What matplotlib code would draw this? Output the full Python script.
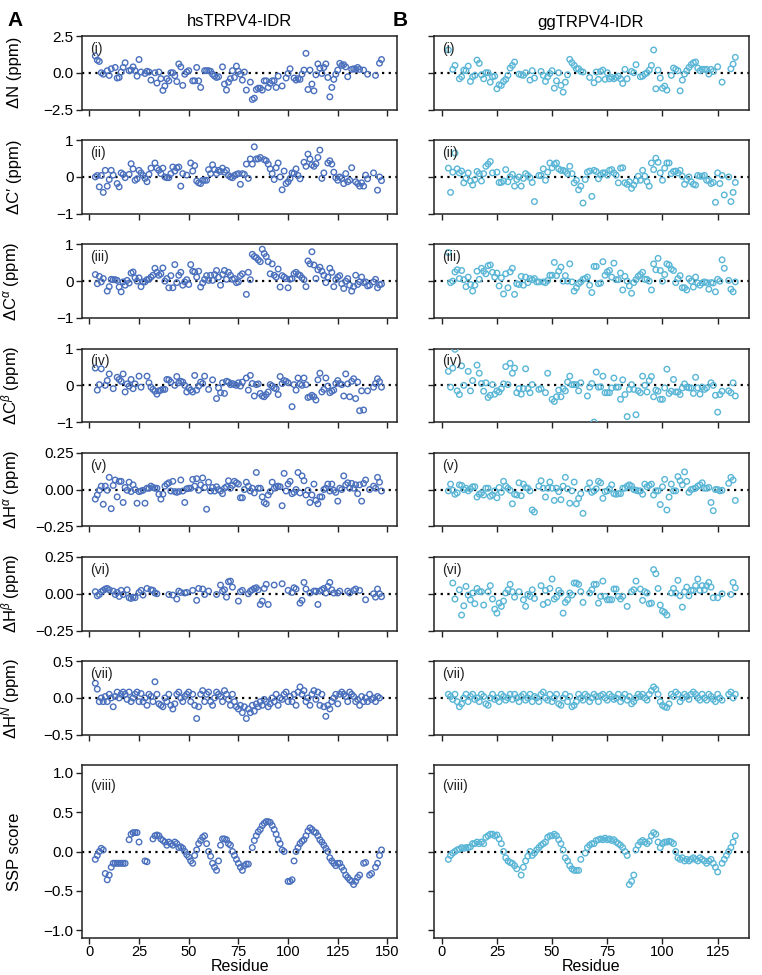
import numpy as np
import matplotlib
matplotlib.use("Agg")
import matplotlib.pyplot as plt

plt.rcParams['font.family'] = ['Liberation Sans', 'DejaVu Sans']
plt.rcParams['mathtext.fontset'] = 'custom'
plt.rcParams['mathtext.rm'] = 'Liberation Sans'
plt.rcParams['mathtext.it'] = 'Liberation Sans:italic'

HS_COLOR = '#4a70bd'
GG_COLOR = '#5ab6d6'

# ---- hsTRPV4-IDR : (residue, value) ----
hs_dN = [(3,1.14),(4,0.86),(5,0.77),(6,0.0),(7,-0.1),(9,0.14),(10,-0.18),(11,0.27),(13,0.36),(14,-0.36),(15,-0.32),
         (16,0.05),(17,0.36),(18,0.68),(20,0.14),(21,0.18),(22,0.4),(23,0.14),(24,-0.23),(25,0.9),(26,0.05),(28,-0.05),
         (29,0.1),(30,0.05),(31,-0.5),(33,0.0),(34,-0.7),(35,0.05),(36,-0.4),(37,-1.2),(38,-0.9),(39,-0.4),(40,-0.55),
         (41,0.0),(42,0.0),(43,-0.2),(44,-0.6),(45,0.6),(46,0.4),(47,-0.86),(48,-0.1),(49,0.05),(50,0.14),(52,-0.55),
         (53,-0.55),(54,0.36),(55,-0.55),(56,-1.0),(58,0.14),(59,0.14),(60,0.14),(61,0.1),(62,-0.1),(63,-0.23),(64,-0.32),
         (65,-0.27),(67,0.4),(68,-0.77),(69,-1.18),(70,-0.64),(71,-0.4),(72,0.14),(73,-0.32),(74,0.45),(75,0.1),(76,-0.1),
         (77,-0.5),(78,0.05),(79,-1.18),(81,-0.64),(82,-1.82),(83,-1.73),(84,-1.14),(85,-1.05),(86,-1.05),(87,-1.18),
         (88,-0.55),(89,-0.55),(90,-1.0),(91,-0.73),(92,-0.55),(93,-0.55),(94,-1.0),(95,-0.23),(97,-0.9),(99,-0.36),
         (100,-0.05),(101,0.27),(103,-0.36),(104,-0.5),(105,-0.4),(106,-0.45),(107,-0.1),(108,0.18),(109,1.32),(110,-1.14),
         (111,0.18),(112,-0.77),(113,-1.23),(114,-0.14),(115,0.6),(116,0.32),(117,-0.05),(118,0.36),(119,0.6),(120,-0.32),
         (121,-1.64),(122,-1.0),(123,-0.45),(124,-0.1),(125,0.18),(126,0.64),(127,0.5),(128,0.55),(129,0.4),(130,-0.27),
         (132,0.23),(133,0.27),(134,0.23),(135,0.36),(136,0.23),(138,0.18),(140,-0.1),(144,-0.18),(146,0.65),(147,0.9)]

hs_dC = [(3,0.0),(4,0.04),(5,-0.27),(6,0.04),(7,-0.42),(8,0.18),(9,-0.25),(10,-0.07),(11,0.18),(12,0.05),(14,-0.18),
         (15,-0.27),(16,0.11),(17,0.07),(18,-0.02),(20,0.07),(21,0.36),(22,0.22),(23,-0.09),(24,-0.05),(25,0.18),(26,0.11),
         (27,0.04),(28,-0.04),(29,-0.13),(30,0.07),(31,0.24),(33,0.38),(34,0.24),(35,0.18),(36,0.09),(37,0.24),(38,0.0),
         (39,-0.02),(40,-0.02),(41,0.09),(42,0.27),(43,0.16),(44,0.25),(45,0.27),(46,-0.25),(47,0.09),(49,0.05),(51,0.38),
         (52,0.16),(53,0.31),(54,-0.11),(55,-0.16),(56,-0.18),(57,-0.09),(58,-0.09),(59,-0.09),(60,0.2),(61,0.09),(62,0.33),
         (63,0.2),(64,0.09),(65,0.18),(66,0.15),(67,0.24),(68,0.13),(69,0.18),(70,0.04),(71,0.0),(72,-0.02),(73,0.04),
         (74,0.07),(75,0.09),(76,-0.2),(77,0.09),(78,0.07),(79,0.35),(80,-0.04),(81,0.49),(82,0.35),(83,0.82),(84,0.49),
         (85,0.49),(86,0.53),(88,0.47),(89,0.44),(90,0.35),(91,0.22),(92,0.09),(93,-0.07),(94,0.25),(95,0.38),(96,0.0),
         (97,-0.35),(98,0.16),(99,-0.18),(100,-0.13),(101,-0.04),(102,0.11),(103,0.09),(104,0.22),(105,0.04),(106,-0.05),
         (108,0.4),(109,0.29),(110,0.62),(111,0.49),(112,0.33),(113,0.29),(114,0.36),(115,0.53),(116,0.73),(117,-0.04),
         (118,0.11),(120,0.38),(121,0.44),(122,0.35),(123,0.13),(124,-0.02),(125,-0.09),(126,0.0),(127,-0.04),(128,-0.18),
         (129,0.09),(130,-0.13),(131,-0.09),(132,0.25),(134,-0.13),(135,-0.18),(136,-0.25),(137,-0.16),(138,-0.25),
         (139,0.05),(140,-0.05),(143,0.11),(145,-0.36),(146,0.0),(147,-0.1)]

hs_dCa = [(3,0.18),(4,-0.07),(5,0.13),(6,-0.02),(7,0.07),(9,-0.27),(10,-0.15),(11,0.05),(12,0.04),(13,0.04),(14,0.02),
          (15,-0.16),(16,-0.29),(17,-0.02),(18,-0.11),(19,0.02),(20,-0.05),(21,0.22),(22,0.25),(23,0.09),(24,0.0),(25,0.09),
          (26,-0.15),(27,-0.02),(28,-0.02),(29,0.04),(30,0.05),(31,0.11),(32,0.16),(33,0.35),(34,0.24),(35,0.16),(36,0.2),
          (37,0.36),(38,0.0),(39,0.07),(40,-0.18),(41,0.15),(42,-0.18),(43,0.45),(44,-0.04),(45,0.16),(46,0.24),(47,-0.11),
          (48,-0.02),(49,0.04),(50,-0.09),(51,0.45),(52,0.27),(53,0.25),(54,0.11),(55,0.27),(56,-0.16),(57,-0.05),(58,0.05),
          (59,0.15),(60,0.02),(61,0.16),(62,0.02),(63,0.18),(64,0.29),(65,0.11),(66,-0.11),(67,0.18),(68,0.29),(69,0.05),
          (70,0.24),(71,0.16),(72,0.05),(73,0.07),(74,-0.04),(75,-0.02),(76,0.15),(77,0.2),(79,-0.36),(80,0.24),(81,0.04),
          (82,0.73),(83,0.67),(84,0.64),(85,0.58),(86,0.53),(87,0.87),(88,0.75),(89,0.67),(90,0.53),(91,0.2),(92,0.47),
          (93,0.16),(94,0.11),(95,0.33),(96,-0.16),(97,0.15),(98,0.11),(99,0.07),(100,-0.18),(101,0.05),(102,0.07),(103,0.2),
          (104,0.24),(105,0.18),(106,0.16),(107,0.09),(108,0.04),(109,-0.15),(110,0.55),(111,0.47),(112,0.8),(113,0.44),
          (114,0.07),(115,0.31),(116,0.38),(117,0.27),(118,0.16),(119,-0.04),(120,0.11),(121,0.35),(122,0.24),(123,-0.15),
          (124,0.04),(125,0.11),(126,0.15),(127,-0.07),(128,-0.2),(129,0.0),(130,0.07),(131,-0.11),(132,-0.27),(133,-0.15),
          (134,0.16),(135,-0.09),(136,-0.02),(137,0.11),(138,-0.04),(139,-0.02),(140,-0.13),(141,-0.11),(143,-0.02),
          (144,0.05),(145,-0.18),(146,-0.1),(147,-0.08)]

hs_dCb = [(3,0.47),(4,-0.13),(5,0.02),(6,0.45),(8,0.0),(9,0.13),(10,0.31),(12,-0.09),(14,0.22),(15,0.16),(16,0.11),
          (17,0.31),(18,-0.18),(19,0.04),(20,-0.02),(21,0.16),(22,-0.09),(23,0.04),(25,0.25),(26,-0.05),(29,0.25),(30,0.07),
          (31,-0.05),(32,-0.11),(33,-0.16),(34,-0.24),(35,-0.15),(36,-0.13),(37,-0.11),(38,-0.11),(39,0.16),(40,0.15),
          (41,0.09),(43,0.0),(44,0.24),(45,0.07),(46,0.11),(47,0.09),(48,0.0),(49,-0.18),(50,-0.07),(51,-0.13),(52,-0.18),
          (53,0.27),(54,-0.13),(55,-0.02),(56,0.09),(57,0.05),(58,0.25),(60,-0.11),(62,0.15),(64,-0.36),(65,-0.07),
          (66,-0.2),(67,0.07),(68,-0.22),(69,0.11),(70,0.09),(71,0.02),(72,0.05),(73,0.02),(74,0.0),(75,0.07),(76,-0.02),
          (77,0.09),(79,0.2),(80,-0.13),(81,0.27),(82,0.05),(83,-0.29),(84,0.02),(85,0.04),(86,-0.22),(87,-0.29),
          (88,-0.31),(89,-0.25),(90,-0.18),(91,0.02),(92,-0.02),(93,-0.07),(94,-0.09),(95,-0.25),(96,0.24),(97,0.05),
          (98,0.13),(99,0.11),(100,0.07),(102,-0.58),(103,0.02),(104,-0.13),(105,0.2),(106,0.04),(107,0.0),(108,0.2),
          (109,0.02),(110,-0.33),(111,-0.31),(112,-0.27),(113,-0.31),(114,-0.4),(115,0.15),(116,0.33),(117,-0.18),
          (118,-0.11),(119,0.2),(120,-0.02),(121,-0.2),(122,-0.16),(123,-0.13),(124,0.05),(125,0.13),(126,0.05),(127,0.02),
          (128,-0.29),(129,0.31),(130,0.04),(131,-0.31),(132,0.11),(133,0.18),(134,-0.36),(135,0.09),(136,-0.69),
          (137,-0.15),(138,-0.67),(140,-0.15),(143,-0.05),(144,0.05),(145,0.18),(146,0.1),(147,-0.05)]

hs_dHa = [(3,-0.065),(4,-0.037),(5,-0.005),(6,0.023),(7,-0.1),(8,0.023),(9,-0.005),(10,0.083),(11,-0.13),(12,0.028),
          (13,0.065),(14,-0.05),(15,0.056),(16,0.056),(17,-0.088),(18,0.014),(19,-0.005),(20,0.05),(21,-0.014),(22,0.032),
          (23,0.0),(24,-0.093),(25,-0.014),(26,-0.01),(27,-0.005),(28,-0.093),(29,0.009),(30,0.009),(31,0.023),(32,0.014),
          (33,0.009),(34,0.009),(35,-0.032),(36,-0.065),(37,-0.032),(38,0.023),(39,0.037),(40,0.046),(41,-0.01),(42,0.056),
          (43,-0.014),(44,-0.019),(45,-0.014),(46,0.065),(47,-0.01),(48,-0.088),(49,0.005),(50,0.009),(51,0.009),
          (52,0.069),(53,0.023),(54,0.074),(55,-0.005),(56,0.032),(57,0.079),(58,0.014),(59,-0.134),(60,0.05),(61,-0.01),
          (62,0.014),(63,-0.01),(64,0.019),(65,0.0),(66,-0.01),(67,-0.028),(68,0.009),(69,0.019),(70,0.06),(71,0.009),
          (72,0.028),(73,0.056),(74,0.046),(75,0.037),(76,-0.056),(77,-0.056),(78,0.0),(79,0.05),(80,0.023),(81,-0.01),
          (82,0.009),(83,-0.023),(84,0.116),(85,0.009),(86,0.009),(87,-0.05),(88,-0.088),(89,-0.097),(90,-0.037),
          (91,-0.014),(92,0.05),(93,0.009),(94,0.019),(95,0.023),(96,0.019),(97,-0.11),(98,0.11),(99,-0.01),(100,0.037),
          (101,0.056),(102,-0.028),(103,-0.019),(104,0.0),(105,0.116),(106,-0.023),(107,0.093),(108,0.06),(109,-0.037),
          (110,-0.005),(111,-0.088),(112,-0.037),(113,0.037),(114,-0.074),(115,-0.097),(116,-0.05),(117,-0.05),(118,0.0),
          (119,0.009),(120,0.037),(121,-0.01),(122,0.037),(123,-0.005),(124,-0.019),(125,-0.079),(126,0.009),(127,0.0),
          (128,0.093),(129,0.032),(130,0.046),(131,0.009),(132,0.042),(133,0.009),(134,0.032),(135,-0.028),(136,0.032),
          (137,-0.079),(138,0.042),(139,0.065),(141,0.0),(143,0.023),(144,0.009),(145,0.083),(146,0.05),(147,-0.01)]

hs_dHb = [(3,0.014),(4,-0.014),(5,-0.005),(6,0.014),(7,0.023),(8,0.032),(9,0.036),(10,0.027),(12,0.018),(13,-0.005),
          (14,0.009),(15,-0.018),(16,0.023),(17,-0.005),(19,0.027),(20,-0.027),(21,-0.032),(22,-0.023),(23,-0.027),
          (25,0.009),(26,0.023),(27,-0.009),(29,0.036),(31,0.027),(32,0.023),(33,0.005),(34,0.0),(40,-0.005),(42,-0.009),
          (44,-0.036),(45,0.018),(46,0.009),(48,0.005),(49,0.009),(52,0.023),(54,-0.045),(55,0.036),(57,0.032),(58,-0.005),
          (60,0.018),(64,-0.005),(66,0.059),(67,0.018),(68,0.027),(69,-0.023),(70,0.082),(71,0.086),(72,0.045),(75,-0.05),
          (76,0.014),(77,0.023),(80,0.0),(81,0.018),(82,0.027),(83,0.036),(84,0.041),(85,0.027),(86,-0.073),(87,-0.05),
          (88,0.036),(89,0.064),(90,-0.073),(93,0.059),(97,0.068),(100,0.023),(102,0.009),(103,0.041),(104,0.032),
          (106,-0.064),(107,-0.045),(108,0.077),(109,0.032),(111,0.005),(113,0.018),(114,0.018),(115,-0.073),(116,0.018),
          (117,0.027),(118,0.036),(119,0.005),(120,0.05),(121,0.077),(122,0.027),(123,0.005),(125,0.005),(126,0.018),
          (130,0.018),(131,0.005),(133,0.023),(134,0.032),(136,0.023),(139,-0.041),(143,0.0),(144,-0.023),(145,0.032),
          (146,0.0),(147,-0.02)]

hs_dHN = [(3,0.2),(4,0.12),(5,-0.05),(6,0.0),(7,-0.05),(8,0.02),(9,-0.05),(10,0.05),(11,0.0),(12,-0.12),(13,0.02),
          (14,0.08),(15,0.0),(16,0.05),(17,0.08),(18,0.05),(19,-0.02),(20,0.08),(21,-0.05),(22,0.0),(23,0.05),(24,0.08),
          (25,-0.05),(26,0.06),(27,-0.05),(28,0.0),(29,-0.1),(30,0.05),(31,0.02),(32,-0.05),(33,0.22),(34,0.05),(35,-0.08),
          (36,-0.1),(37,-0.12),(38,0.0),(39,-0.05),(40,0.05),(41,-0.1),(42,-0.15),(43,-0.08),(44,0.05),(45,0.08),(46,0.0),
          (47,-0.05),(48,0.02),(49,0.05),(50,0.08),(51,-0.05),(52,0.05),(53,-0.1),(54,-0.28),(55,-0.12),(56,0.05),
          (57,0.1),(58,-0.05),(59,0.05),(60,0.08),(61,-0.05),(62,-0.1),(63,0.0),(64,0.08),(65,0.05),(66,0.02),(67,-0.05),
          (68,0.1),(69,0.05),(70,-0.02),(71,-0.1),(72,0.05),(73,-0.05),(74,-0.12),(75,-0.15),(76,-0.1),(77,-0.2),
          (78,-0.12),(79,-0.28),(80,-0.15),(81,-0.2),(82,-0.1),(83,-0.18),(84,-0.08),(85,-0.12),(86,-0.05),(87,-0.1),
          (88,-0.02),(89,-0.05),(90,-0.12),(91,-0.08),(92,0.0),(93,-0.05),(94,0.05),(95,-0.1),(96,0.0),(97,-0.02),
          (98,0.05),(99,0.08),(100,-0.05),(101,0.02),(102,-0.05),(103,0.05),(104,-0.1),(105,0.08),(106,0.15),(107,0.05),
          (108,0.1),(109,-0.05),(110,0.0),(111,-0.1),(112,0.05),(113,0.1),(114,-0.02),(115,0.08),(116,-0.1),(117,0.05),
          (118,-0.12),(119,-0.25),(120,-0.1),(121,-0.15),(122,-0.05),(123,0.0),(124,0.05),(125,-0.08),(126,0.05),
          (127,0.08),(128,0.05),(129,0.02),(130,-0.05),(131,0.08),(132,0.05),(133,0.02),(134,-0.05),(135,-0.02),
          (136,-0.1),(137,0.02),(138,-0.05),(139,0.0),(140,-0.05),(141,0.05),(142,-0.02),(143,0.0),(144,-0.05),
          (145,0.02),(146,0.0)]

hs_ssp = [(3,-0.1),(4,-0.05),(5,0.0),(6,0.04),(7,0.02),(8,-0.28),(9,-0.36),(10,-0.3),(11,-0.2),(12,-0.15),(13,-0.15),
          (14,-0.15),(15,-0.15),(16,-0.15),(17,-0.15),(18,-0.15),(20,0.15),(21,0.22),(22,0.24),(23,0.24),(24,0.24),
          (25,0.12),(28,-0.12),(29,-0.13),(32,0.16),(33,0.2),(34,0.21),(35,0.2),(36,0.16),(37,0.14),(38,0.12),(39,0.08),
          (40,0.12),(41,0.1),(42,0.08),(43,0.12),(44,0.1),(45,0.05),(46,0.06),(47,0.04),(48,0.0),(49,-0.04),(50,-0.07),
          (51,-0.12),(52,-0.15),(53,-0.05),(54,0.02),(55,0.1),(56,0.14),(57,0.18),(58,0.2),(59,0.1),(60,0.0),(61,-0.06),
          (62,-0.15),(63,-0.2),(64,-0.24),(65,-0.12),(66,0.08),(67,0.16),(68,0.16),(69,0.15),(70,0.1),(71,0.08),(72,0.0),
          (73,-0.05),(74,-0.1),(75,-0.15),(76,-0.2),(77,-0.24),(78,-0.18),(79,-0.16),(80,-0.16),(82,0.05),(83,0.14),
          (84,0.2),(85,0.25),(86,0.28),(87,0.33),(88,0.36),(89,0.38),(90,0.38),(91,0.37),(92,0.33),(93,0.28),(94,0.22),
          (95,0.15),(96,0.1),(97,0.02),(98,0.0),(100,-0.38),(101,-0.38),(102,-0.36),(103,-0.12),(104,0.0),(105,0.05),
          (106,0.1),(107,0.13),(108,0.15),(109,0.2),(110,0.26),(111,0.3),(112,0.28),(113,0.25),(114,0.24),(115,0.2),
          (116,0.15),(117,0.12),(118,0.08),(119,0.04),(120,0.0),(121,-0.08),(122,-0.12),(123,-0.15),(124,-0.18),
          (125,-0.15),(126,-0.15),(127,-0.2),(128,-0.24),(129,-0.3),(130,-0.33),(131,-0.36),(132,-0.38),(133,-0.42),
          (134,-0.38),(135,-0.33),(136,-0.3),(138,-0.15),(139,-0.14),(141,-0.3),(142,-0.28),(144,-0.2),(145,-0.15),
          (146,-0.05),(147,0.02)]

# ---- ggTRPV4-IDR : (residue, value) ----
gg_dN = [(3,1.55),(5,0.23),(6,0.5),(8,-0.41),(9,-0.27),(10,0.18),(11,0.14),(12,0.45),(13,-0.59),(14,-0.27),(15,-0.18),
         (16,0.86),(17,0.64),(18,-0.14),(19,-0.41),(20,0.0),(21,0.0),(22,-0.64),(23,-0.27),(24,-0.23),(25,-1.09),
         (26,-0.82),(27,-0.86),(28,-0.59),(29,-0.45),(30,-0.18),(31,0.32),(32,0.5),(33,0.73),(35,-0.09),(36,-0.14),
         (37,-0.18),(38,0.0),(40,-0.5),(41,0.14),(42,-0.36),(45,0.09),(46,-0.18),(47,-0.59),(48,-0.27),(49,-0.05),
         (50,0.14),(51,-1.05),(52,-0.55),(53,0.0),(54,-0.86),(55,-1.32),(56,-0.64),(57,-0.14),(58,0.91),(59,0.68),
         (60,0.5),(61,0.27),(62,0.27),(63,0.09),(64,0.05),(67,-0.32),(69,-0.68),(70,0.05),(71,-0.45),(72,0.09),(73,0.18),
         (74,-0.45),(75,0.0),(76,-0.41),(77,-0.32),(78,-0.41),(79,-0.32),(80,-0.23),(81,-0.41),(82,-0.73),(83,0.23),
         (84,-0.41),(86,0.09),(87,0.0),(88,0.55),(90,-0.27),(91,-0.23),(92,-0.09),(93,0.0),(94,0.18),(95,0.5),(96,1.55),
         (97,-1.09),(98,0.18),(99,-0.36),(100,-1.05),(101,-0.91),(102,-1.18),(104,-0.18),(105,0.32),(106,0.23),
         (107,0.14),(108,-1.23),(109,-0.5),(110,-0.09),(111,0.14),(112,0.36),(113,0.55),(114,0.68),(115,0.73),
         (116,0.32),(117,0.14),(118,0.23),(119,0.23),(120,0.23),(121,-0.09),(122,0.23),(123,0.09),(125,0.41),
         (127,-0.64),(131,0.27),(132,0.59),(133,1.05)]

gg_dC = [(3,0.24),(4,-0.42),(5,0.13),(6,0.65),(7,0.22),(8,0.11),(9,0.16),(10,-0.16),(11,-0.04),(12,0.11),(13,-0.11),
         (14,-0.22),(15,-0.07),(16,0.15),(17,0.09),(18,-0.11),(19,0.09),(20,0.29),(21,0.35),(22,0.42),(23,0.11),
         (25,0.13),(26,-0.15),(27,-0.15),(28,-0.11),(29,0.2),(30,-0.13),(31,0.0),(32,0.07),(33,-0.25),(34,-0.07),
         (35,0.0),(36,-0.25),(37,-0.04),(38,0.09),(39,0.04),(40,-0.02),(41,-0.15),(42,-0.67),(44,0.04),(45,0.04),
         (46,0.22),(47,-0.09),(48,0.13),(49,0.38),(50,0.25),(51,0.35),(52,0.38),(53,0.22),(54,0.18),(55,0.18),(56,0.15),
         (57,0.09),(58,0.29),(59,0.09),(60,-0.16),(61,-0.09),(62,-0.35),(63,-0.25),(64,-0.71),(65,-0.07),(66,0.13),
         (67,0.16),(68,-0.53),(69,0.18),(70,0.15),(71,-0.05),(72,0.05),(73,0.11),(74,0.11),(75,0.05),(76,0.18),(77,0.2),
         (78,0.11),(79,0.05),(80,-0.16),(81,0.24),(82,0.25),(83,-0.16),(84,-0.2),(85,-0.13),(86,-0.31),(87,-0.22),
         (88,-0.11),(89,0.02),(90,-0.09),(91,0.18),(92,0.02),(93,-0.13),(94,-0.25),(95,0.38),(96,0.2),(97,0.51),(98,0.4),
         (99,0.11),(100,-0.09),(101,0.24),(102,0.38),(103,0.38),(104,0.09),(105,0.15),(106,0.16),(107,0.11),(108,0.18),
         (109,0.02),(110,-0.2),(111,-0.07),(112,0.0),(113,-0.13),(114,-0.2),(115,-0.22),(116,0.04),(117,0.02),(118,0.02),
         (119,0.04),(120,-0.09),(121,-0.09),(122,-0.18),(123,-0.15),(124,-0.69),(125,0.11),(126,-0.18),(127,0.04),
         (128,-0.49),(130,0.0),(131,-0.67),(132,-0.42),(133,-0.15)]

gg_dCa = [(3,0.78),(4,-0.04),(5,0.0),(6,0.25),(7,0.31),(8,0.07),(9,0.29),(10,0.04),(11,-0.15),(12,0.11),(13,-0.09),
          (14,-0.27),(15,-0.11),(16,0.27),(17,0.05),(18,0.35),(19,0.27),(20,0.2),(21,0.42),(22,0.44),(23,0.24),(24,0.11),
          (25,0.22),(26,-0.13),(27,0.09),(28,-0.35),(29,0.2),(30,-0.18),(31,0.25),(32,0.35),(33,-0.36),(34,-0.07),
          (35,-0.09),(36,0.13),(37,-0.11),(38,0.11),(39,-0.04),(40,0.07),(41,0.04),(42,0.07),(43,-0.02),(44,-0.02),
          (46,-0.02),(47,-0.04),(48,0.02),(49,0.16),(50,0.16),(51,0.51),(52,0.15),(53,0.27),(54,0.38),(55,0.0),(56,0.15),
          (57,0.0),(58,0.47),(59,-0.02),(60,-0.27),(61,-0.18),(62,-0.07),(63,-0.02),(64,0.05),(65,0.07),(66,0.11),
          (67,-0.11),(68,-0.31),(69,0.4),(70,0.4),(71,-0.07),(72,-0.05),(73,0.53),(74,0.16),(75,0.25),(76,0.29),(77,0.11),
          (78,0.49),(79,0.04),(80,0.04),(81,0.22),(82,-0.24),(83,0.13),(84,0.0),(85,-0.13),(86,-0.33),(87,-0.04),
          (88,0.04),(89,0.13),(90,0.18),(91,0.24),(92,0.05),(93,0.05),(94,0.0),(95,-0.24),(96,0.47),(97,0.31),(98,0.62),
          (99,0.29),(100,0.0),(101,0.18),(102,0.47),(103,0.44),(104,0.33),(105,0.29),(106,-0.04),(107,0.07),(108,0.15),
          (109,-0.18),(110,-0.18),(111,-0.24),(112,0.07),(113,0.0),(114,-0.16),(115,0.11),(116,-0.05),(117,-0.11),
          (118,-0.05),(119,-0.02),(120,-0.04),(121,-0.22),(122,-0.04),(123,-0.05),(124,-0.29),(125,0.05),(126,0.0),
          (127,0.58),(128,0.35),(130,0.02),(131,-0.22),(132,-0.29),(133,-0.02)]

gg_dCb = [(3,0.38),(4,-0.05),(5,0.47),(6,0.98),(7,-0.15),(8,-0.25),(9,0.53),(10,0.0),(12,0.38),(13,-0.15),(14,0.13),
          (16,0.55),(17,0.33),(18,0.05),(19,-0.16),(20,0.07),(21,-0.33),(22,-0.27),(23,0.02),(24,-0.24),(25,-0.15),
          (26,-0.18),(27,-0.09),(28,0.04),(29,0.51),(30,0.02),(31,0.6),(32,0.33),(33,0.47),(34,-0.2),(35,-0.09),
          (36,-0.24),(37,-0.09),(38,0.45),(39,-0.09),(40,-0.2),(41,0.02),(44,-0.11),(45,-0.09),(47,-0.2),(48,0.33),
          (50,-0.38),(51,-0.44),(52,-0.31),(53,-0.13),(54,-0.31),(55,-0.09),(56,-0.15),(57,0.09),(58,0.25),(59,0.02),
          (60,0.02),(61,0.02),(62,-0.15),(63,0.07),(66,-0.29),(67,-0.05),(68,0.05),(69,-1.0),(70,0.36),(71,-0.05),
          (72,-0.04),(73,0.25),(74,-0.2),(75,-0.2),(76,-0.2),(77,-0.07),(78,0.2),(79,-0.05),(80,-0.05),(81,-0.38),
          (82,0.15),(83,-0.25),(84,-0.85),(85,-0.11),(86,0.02),(87,-0.11),(88,-0.8),(89,-0.15),(90,-0.2),(91,0.25),
          (92,0.0),(93,-0.18),(94,0.13),(95,0.24),(96,-0.31),(97,-0.13),(98,-0.16),(99,-0.38),(100,-0.38),(101,-0.07),
          (102,0.44),(103,-0.22),(104,-0.16),(105,0.16),(106,-0.18),(107,-0.18),(108,-0.25),(109,-0.07),(110,0.04),
          (111,-0.05),(112,-0.07),(113,-0.07),(114,-0.22),(115,0.22),(116,-0.07),(117,-0.24),(118,-0.05),(119,-0.11),
          (120,-0.07),(122,0.07),(123,0.0),(124,-0.27),(125,-0.73),(126,-0.25),(127,-0.16),(130,-0.15),(131,-0.2),
          (132,0.07),(133,-0.29)]

gg_dHa = [(3,-0.009),(4,0.037),(5,-0.005),(6,-0.032),(7,-0.023),(8,0.032),(9,0.028),(10,0.0),(11,0.009),(12,-0.009),
          (13,0.005),(14,0.019),(15,0.019),(16,-0.051),(17,-0.032),(18,-0.023),(19,-0.037),(20,0.009),(21,0.009),
          (22,-0.046),(23,-0.037),(24,-0.009),(25,-0.056),(26,0.014),(27,-0.019),(28,0.056),(29,0.023),(30,0.009),
          (31,-0.005),(32,-0.097),(33,-0.032),(34,-0.037),(35,0.046),(36,-0.042),(37,0.037),(38,0.014),(39,0.009),
          (40,-0.009),(41,-0.139),(42,-0.153),(44,0.023),(45,0.06),(46,0.009),(47,-0.051),(48,0.009),(49,0.051),
          (50,0.009),(51,-0.074),(52,0.009),(53,-0.014),(54,-0.069),(55,0.023),(56,0.083),(57,0.005),(58,-0.093),
          (59,-0.009),(60,0.051),(61,-0.097),(62,-0.06),(63,-0.028),(64,-0.162),(66,0.005),(67,0.046),(68,-0.019),
          (69,-0.009),(70,0.005),(71,0.056),(72,0.046),(73,-0.06),(74,-0.014),(75,-0.009),(76,0.005),(77,0.032),
          (78,-0.028),(79,-0.032),(80,-0.028),(81,-0.028),(82,0.009),(83,0.009),(84,0.023),(85,0.032),(86,0.023),
          (87,0.0),(88,-0.005),(89,-0.009),(90,-0.009),(91,-0.032),(92,0.037),(93,0.019),(94,0.028),(95,0.037),
          (96,-0.037),(97,-0.009),(98,-0.009),(99,-0.102),(100,0.019),(101,0.069),(102,-0.139),(103,-0.051),(104,0.037),
          (105,-0.009),(106,-0.009),(107,0.088),(108,0.06),(109,0.032),(110,0.12),(111,0.056),(112,-0.019),(113,0.0),
          (114,0.005),(115,0.009),(116,0.023),(117,0.032),(118,0.046),(119,0.009),(120,0.009),(121,0.014),(122,-0.088),
          (123,-0.144),(124,0.0),(125,0.0),(126,-0.009),(127,-0.005),(130,0.042),(131,0.083),(132,0.065),(133,-0.074)]

gg_dHb = [(5,0.073),(6,-0.036),(8,0.027),(9,-0.145),(10,-0.082),(11,0.05),(12,-0.009),(13,-0.041),(14,0.005),
          (15,-0.068),(16,0.036),(17,0.014),(18,0.014),(19,-0.077),(21,0.014),(22,0.055),(23,-0.036),(24,-0.105),
          (25,-0.132),(26,-0.064),(27,-0.086),(28,-0.05),(29,0.005),(30,0.027),(31,0.064),(32,0.014),(33,-0.023),
          (35,0.014),(37,-0.041),(38,-0.086),(39,-0.005),(40,-0.018),(41,0.027),(42,-0.032),(45,0.055),(46,-0.073),
          (47,0.023),(48,-0.059),(49,0.036),(50,0.1),(51,-0.036),(52,-0.023),(53,0.023),(54,0.005),(55,-0.132),
          (56,-0.059),(57,-0.041),(58,0.005),(59,-0.009),(60,0.073),(61,0.073),(62,0.064),(63,0.014),(64,-0.059),
          (67,0.005),(68,0.027),(69,0.064),(70,0.064),(71,-0.064),(72,-0.018),(73,0.086),(74,-0.018),(75,-0.041),
          (76,-0.041),(77,-0.041),(78,0.032),(79,0.032),(80,-0.018),(81,-0.036),(82,-0.018),(84,-0.086),(86,0.014),
          (87,0.027),(88,0.086),(90,0.032),(91,-0.045),(92,0.014),(93,0.005),(94,-0.068),(95,-0.064),(96,0.164),
          (97,0.136),(98,0.036),(99,-0.077),(100,-0.118),(101,-0.127),(102,-0.145),(104,0.005),(105,0.036),(106,0.005),
          (107,0.091),(108,-0.014),(109,-0.091),(110,0.014),(111,0.045),(112,-0.014),(113,0.023),(114,0.023),
          (115,0.055),(116,0.1),(117,0.023),(118,0.055),(119,0.027),(120,0.055),(121,0.077),(122,0.045),(123,-0.027),
          (125,-0.027),(127,0.0),(131,-0.005),(132,0.077),(133,0.041)]

gg_dHN = [(3,0.05),(4,0.02),(5,-0.02),(6,0.05),(7,-0.05),(8,-0.12),(9,-0.08),(10,0.0),(11,0.05),(12,-0.05),(13,0.02),
          (14,0.05),(15,-0.02),(16,0.0),(17,-0.05),(18,0.05),(19,0.02),(20,-0.08),(21,-0.1),(22,0.0),(23,0.05),
          (24,-0.02),(25,0.0),(26,-0.05),(27,0.05),(28,0.02),(29,-0.03),(30,0.0),(31,0.05),(32,-0.02),(33,0.05),(34,0.0),
          (35,-0.05),(36,0.02),(37,0.05),(38,-0.03),(39,0.0),(40,0.05),(41,-0.05),(42,0.02),(43,0.0),(44,-0.05),
          (45,0.05),(46,0.08),(47,0.0),(48,-0.03),(49,0.05),(50,-0.05),(51,0.0),(52,0.05),(53,-0.08),(54,-0.1),(55,0.0),
          (56,0.05),(57,-0.05),(58,0.02),(59,-0.12),(60,-0.1),(61,-0.05),(62,0.05),(63,0.0),(64,-0.03),(65,0.05),
          (66,0.02),(67,-0.05),(68,0.0),(69,0.05),(70,0.02),(71,-0.05),(72,0.03),(73,0.05),(74,0.0),(75,-0.03),(76,0.05),
          (77,0.02),(78,-0.02),(79,0.0),(80,0.05),(81,-0.05),(82,0.0),(83,0.05),(84,-0.03),(85,0.02),(86,-0.08),
          (87,-0.05),(88,0.0),(89,0.05),(90,0.02),(91,0.05),(92,0.0),(93,-0.03),(94,0.05),(95,0.1),(96,0.15),(97,0.12),
          (98,0.05),(99,-0.05),(100,-0.1),(101,-0.12),(102,-0.13),(103,-0.08),(104,0.05),(105,0.02),(106,0.08),
          (107,0.05),(108,-0.05),(109,0.0),(110,0.05),(111,0.02),(112,-0.02),(113,0.05),(114,0.08),(115,0.05),(116,0.0),
          (117,-0.03),(118,0.05),(119,0.0),(120,-0.03),(121,0.05),(122,0.02),(123,-0.02),(124,-0.05),(125,0.05),
          (126,0.0),(127,-0.03),(130,0.05),(131,0.08),(132,0.0),(133,0.05)]

gg_ssp = [(3,-0.1),(4,-0.05),(5,-0.02),(6,0.0),(7,0.02),(8,0.03),(9,0.05),(10,0.04),(11,0.05),(12,0.05),(13,0.06),
          (14,0.1),(15,0.1),(16,0.12),(17,0.1),(18,0.12),(19,0.1),(20,0.18),(21,0.2),(22,0.22),(23,0.22),(24,0.2),
          (25,0.21),(26,0.16),(27,0.1),(28,0.0),(29,-0.08),(30,-0.12),(31,-0.14),(32,-0.15),(33,-0.18),(34,-0.22),
          (36,-0.3),(37,-0.2),(38,-0.12),(39,-0.06),(40,0.0),(41,-0.05),(42,-0.02),(43,0.02),(44,0.05),(45,0.08),
          (46,0.1),(47,0.12),(48,0.18),(49,0.2),(50,0.2),(51,0.22),(52,0.2),(53,0.15),(54,0.1),(55,0.02),(56,-0.08),
          (57,-0.12),(58,-0.18),(59,-0.22),(60,-0.24),(61,-0.24),(62,-0.24),(63,-0.1),(65,-0.02),(66,0.05),(67,0.08),
          (68,0.1),(69,0.1),(70,0.14),(71,0.15),(72,0.16),(73,0.15),(74,0.17),(75,0.15),(76,0.16),(77,0.14),(78,0.15),
          (79,0.12),(80,0.1),(81,0.08),(82,0.05),(83,0.0),(84,-0.05),(85,-0.42),(86,-0.38),(87,-0.3),(88,0.02),
          (89,0.08),(90,0.12),(91,0.14),(92,0.12),(93,0.1),(94,0.13),(95,0.2),(96,0.24),(97,0.22),(98,0.12),(99,0.05),
          (100,0.1),(101,0.12),(102,0.12),(103,0.13),(104,0.12),(105,0.1),(106,0.0),(107,-0.08),(108,-0.1),(109,-0.08),
          (110,-0.12),(111,-0.1),(112,-0.12),(113,-0.1),(114,-0.08),(115,-0.1),(116,-0.12),(117,-0.08),(118,-0.1),
          (119,-0.12),(120,-0.15),(121,-0.12),(122,-0.1),(123,-0.15),(124,-0.2),(125,-0.26),(127,-0.15),(128,-0.1),
          (129,-0.05),(130,0.0),(131,0.05),(132,0.12),(133,0.2)]

ylabels = ['\u0394N (ppm)', '\u0394C\u2032 (ppm)', r'$\Delta$C$^{\alpha}$ (ppm)', r'$\Delta$C$^{\beta}$ (ppm)',
           r'$\Delta$H$^{\alpha}$ (ppm)', r'$\Delta$H$^{\beta}$ (ppm)', r'$\Delta$H$^{N}$ (ppm)', 'SSP score']
panel_tags = ['(i)', '(ii)', '(iii)', '(iv)', '(v)', '(vi)', '(vii)', '(viii)']
ylims = [(-2.5, 2.5), (-1, 1), (-1, 1), (-1, 1), (-0.25, 0.25), (-0.25, 0.25), (-0.5, 0.5), (-1.1, 1.1)]
yticks = [[-2.5, 0, 2.5], [-1, 0, 1], [-1, 0, 1], [-1, 0, 1], [-0.25, 0, 0.25], [-0.25, 0, 0.25],
          [-0.5, 0, 0.5], [-1.0, -0.5, 0, 0.5, 1.0]]
yfmt = ['{:.1f}', '{:.0f}', '{:.0f}', '{:.0f}', '{:.2f}', '{:.2f}', '{:.1f}', '{:.1f}']

hs_sets = [hs_dN, hs_dC, hs_dCa, hs_dCb, hs_dHa, hs_dHb, hs_dHN, hs_ssp]
gg_sets = [gg_dN, gg_dC, gg_dCa, gg_dCb, gg_dHa, gg_dHb, gg_dHN, gg_ssp]

W, H = 762, 975
fig = plt.figure(figsize=(W / 100, H / 100), dpi=100)

# panel pixel boxes (top, bottom)
boxes = [(36 + 104.2 * i, 36 + 104.2 * i + 73.5) for i in range(7)] + [(765, 938)]
cols = [(82, 397, hs_sets, HS_COLOR, (-3.7, 154.8), [0, 25, 50, 75, 100, 125, 150], 240),
        (434, 749, gg_sets, GG_COLOR, (-3.5, 139.2), [0, 25, 50, 75, 100, 125], 591)]

for c, (x0, x1, sets, color, xlim, xt, xc) in enumerate(cols):
    for i, (top, bot) in enumerate(boxes):
        ax = fig.add_axes([x0 / W, 1 - bot / H, (x1 - x0) / W, (bot - top) / H])
        res, val = zip(*sets[i])
        ax.scatter(res, val, s=16, facecolors='none', edgecolors=color, linewidths=1.0, zorder=3)
        ax.axhline(0, color='black', ls=(0, (1, 2)), lw=1.6, zorder=2)
        ax.set_xlim(*xlim)
        ax.set_ylim(*ylims[i])
        ax.set_xticks(xt)
        ax.set_yticks(yticks[i])
        for sp in ax.spines.values():
            sp.set_linewidth(1.1)
            sp.set_color('#222222')
        ax.tick_params(direction='out', length=4.5, width=1.0, color='#222222', labelsize=11, pad=1.5)
        ax.tick_params(axis='x', length=4, pad=1, labelsize=10.5)
        ax.text(0.025, 0.92, panel_tags[i], transform=ax.transAxes, ha='left', va='top', fontsize=10,
                color='#222222')
        if c == 0:
            ax.set_yticklabels([yfmt[i].format(v).replace('-', '\u2212') for v in yticks[i]])
            ax.set_ylabel(ylabels[i], fontsize=12)
            ax.yaxis.set_label_coords(-0.19, 0.5)
        else:
            ax.set_yticklabels([])
        if i != 7:
            ax.set_xticklabels([])
    fig.text(xc / W, 1 / H, 'Residue', ha='center', va='bottom', fontsize=11.5)

fig.text(240 / W, 1 - 22 / H, 'hsTRPV4-IDR', ha='center', va='center', fontsize=12)
fig.text(591 / W, 1 - 22 / H, 'ggTRPV4-IDR', ha='center', va='center', fontsize=12)
fig.text(15 / W, 1 - 20 / H, 'A', ha='center', va='center', fontsize=15, fontweight='bold')
fig.text(400 / W, 1 - 20 / H, 'B', ha='center', va='center', fontsize=15, fontweight='bold')

fig.savefig('out.png', dpi=100)
